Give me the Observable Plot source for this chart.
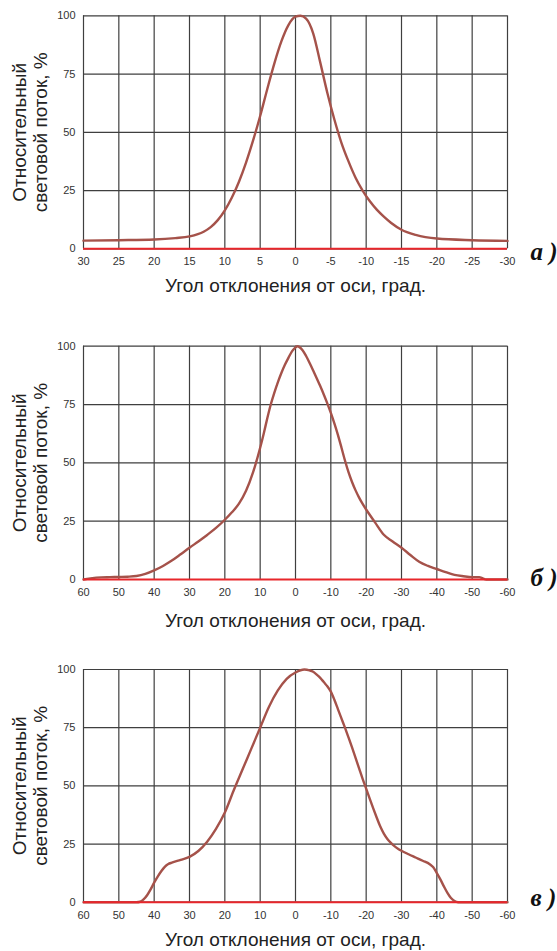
<!DOCTYPE html>
<html>
<head>
<meta charset="utf-8">
<script src="https://cdn.jsdelivr.net/npm/d3@7"></script>
<script src="https://cdn.jsdelivr.net/npm/@observablehq/plot@0.6"></script>
<style>
  body { margin: 0; background: #fff; }
  #chart svg { display: block; }
</style>
</head>
<body>
<div id="chart"></div>
<script>
// ---- Data ----
const yLabel = "Относительный\nсветовой поток, %";
const xLabel = "Угол отклонения от оси, град.";
const panelLetters = ["а )", "б )", "в )"];
const yTicks = [0, 25, 50, 75, 100];
const xTicksA = [30, 25, 20, 15, 10, 5, 0, -5, -10, -15, -20, -25, -30];
const xTicksBC = [60, 50, 40, 30, 20, 10, 0, -10, -20, -30, -40, -50, -60];

const angleA = [30, 25, 20, 17, 15, 13, 12, 11, 10, 9, 8, 7, 6, 5, 4, 3, 2, 1, 0, -0.7, -1.5, -2.5, -3.5, -4.5, -5.5, -6.5, -7.5, -8.5, -9.5, -10.5, -11.5, -12.5, -13.5, -15, -17, -20, -25, -30];
const fluxA  = [3.5, 3.7, 4.0, 4.6, 5.3, 7.3, 9.3, 12.3, 16.5, 22, 28.8, 37, 46.5, 57, 68.5, 79.5, 89, 96, 99.6, 100, 98.8, 92.5, 80, 67, 55.5, 45.5, 37.5, 30.5, 25, 20.5, 16.8, 13.8, 11.2, 8.2, 6, 4.4, 3.7, 3.4];

const angleB = [60, 57.5, 55, 52.5, 50, 47.5, 45, 42.5, 40, 37.5, 35, 32.5, 30, 27.5, 25, 22.5, 20, 18, 16, 14, 12, 10, 9, 8, 7, 6, 5, 4, 3, 2, 1, 0, -0.5, -2, -3, -4, -5, -6, -7, -8, -9, -10, -11, -12, -13, -14, -15, -16, -17, -18, -19, -20, -22.5, -25, -27.5, -30, -32.5, -35, -37.5, -40, -42.5, -45, -47.5, -50, -52, -53, -54, -60];
const fluxB  = [0, 0.6, 0.9, 1.0, 1.1, 1.2, 1.5, 2.4, 3.9, 5.8, 8.1, 10.8, 13.6, 16.3, 19.1, 22.1, 25.6, 28.8, 32.5, 38, 46, 56.5, 62.5, 69, 75, 80, 84.5, 88.5, 92, 95, 97.8, 99.5, 100, 98.3, 95.8, 92.8, 89.6, 86.3, 82.9, 79.3, 75.5, 71.4, 66.9, 62, 56.6, 51, 46, 41.8, 38.2, 35.1, 32.4, 30, 24.5, 19.2, 16.3, 13.6, 10.5, 7.6, 5.8, 4.5, 3.2, 2.0, 1.4, 1.0, 1.0, 0.5, 0, 0];

const angleC = [60, 50, 45, 44, 43, 42, 41, 40, 39, 38, 37, 36, 35, 32.5, 30, 27.5, 25, 22.5, 20, 17.5, 15, 12.5, 10, 7.5, 5, 2.5, 0, -2.5, -4, -5, -6, -7, -8, -9, -10, -11, -12, -13, -14, -15, -16, -17, -18, -19, -20, -21, -22, -23, -24, -25, -26, -27, -28, -29, -30, -32, -34, -36, -38, -39, -40, -41, -42, -43, -44, -45, -46, -60];
const fluxC  = [0, 0, 0, 0.2, 1.2, 3, 5.5, 8.4, 11, 13.3, 15.2, 16.4, 17, 18.2, 19.5, 22, 26, 31.5, 38.5, 48, 57, 66, 75, 84, 91, 96, 98.7, 100, 99.6, 99, 97.8, 96.4, 94.6, 92.8, 90.5, 87, 83, 79, 75, 70.8, 66.5, 62, 57.5, 53, 48.8, 44.5, 40.3, 36.3, 32.5, 29.5, 27.2, 25.5, 24.1, 23, 22.1, 20.6, 19.2, 17.8, 16.3, 15, 12.5, 9.8, 6.8, 4, 1.8, 0.5, 0, 0];

// ---- Style ----
const curveColor = "#a5524a";
const zeroColor = "#e8262b";
const gridColor = "#3f3f3f";
const fmt = d => d < 0 ? "-" + (-d) : String(d);

function panel({angles, flux, ticks, letter, height, marginTop, marginBottom, titleDy, letterDy}) {
  const data = angles.map((a, i) => ({a, v: flux[i]}));
  const dom = [ticks[0], ticks[ticks.length - 1]];
  return Plot.plot({
    width: 557,
    height,
    marginLeft: 83,
    marginRight: 50,
    marginTop,
    marginBottom,
    style: {fontFamily: "Liberation Sans, Arial, sans-serif", fontSize: "11px", color: "#333", background: "#fff", overflow: "visible"},
    x: {domain: dom, ticks, tickFormat: fmt, tickSize: 0, tickPadding: 8.5, label: null},
    y: {domain: [0, 100], ticks: yTicks, tickSize: 0, tickPadding: 8, label: null},
    marks: [
      Plot.ruleX(ticks, {stroke: gridColor, strokeWidth: 1.2}),
      Plot.ruleY(yTicks, {stroke: gridColor, strokeWidth: 1.2}),
      Plot.line(data, {x: "a", y: "v", stroke: curveColor, strokeWidth: 2.4, curve: "monotone-x"}),
      Plot.ruleY([0], {stroke: zeroColor, strokeWidth: 2}),
      Plot.text([yLabel], {text: d => d, frameAnchor: "left", lineAnchor: "middle", dx: -53.6, rotate: -90, lineHeight: 1.1, fontSize: 19, fill: "#222", textAnchor: "middle"}),
      Plot.text([xLabel], {text: d => d, frameAnchor: "bottom", lineAnchor: "bottom", dy: titleDy, fontSize: 19, fill: "#222"}),
      Plot.text([letter], {text: d => d, frameAnchor: "bottom-right", lineAnchor: "bottom", dx: 23, dy: letterDy, textAnchor: "start", fontSize: 25, fontFamily: "Liberation Serif, Times New Roman, serif", fontWeight: "bold", fontStyle: "italic", fill: "#111"})
    ]
  });
}

const chart = document.getElementById("chart");
chart.append(panel({angles: angleA, flux: fluxA, ticks: xTicksA, letter: panelLetters[0], height: 300, marginTop: 15.3, marginBottom: 51.7, titleDy: 42.7, letterDy: 11.5}));
chart.append(panel({angles: angleB, flux: fluxB, ticks: xTicksBC, letter: panelLetters[1], height: 330, marginTop: 45.7, marginBottom: 51, titleDy: 47.5, letterDy: 6}));
chart.append(panel({angles: angleC, flux: fluxC, ticks: xTicksBC, letter: panelLetters[2], height: 321, marginTop: 39, marginBottom: 49.3, titleDy: 43.5, letterDy: 3.5}));
</script>
</body>
</html>
